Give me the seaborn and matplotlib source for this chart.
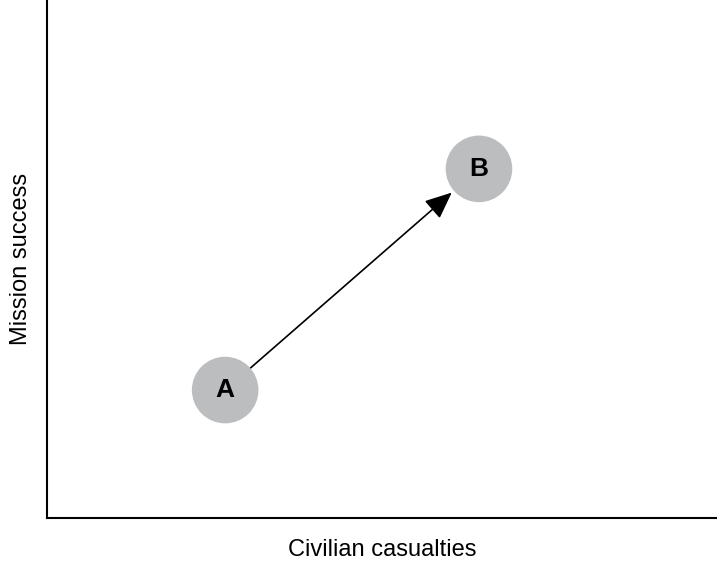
import matplotlib
matplotlib.use("Agg")
import matplotlib.pyplot as plt
import seaborn as sns
import pandas as pd

# -------------------------------
# Data
# -------------------------------
labels = ["A", "B"]
casualties = [2.66, 6.45]
success = [2.47, 6.74]

df = pd.DataFrame({"label": labels, "casualties": casualties, "success": success})

# -------------------------------
# Style
# -------------------------------
sns.set_theme(style="white")
plt.rcParams["font.family"] = ["Liberation Sans", "DejaVu Sans"]
plt.rcParams["text.color"] = "black"
plt.rcParams["axes.labelcolor"] = "black"

fig = plt.figure(figsize=(7.17, 5.62), dpi=100)
ax = fig.add_axes([0.0656, 0.0783, 0.934, 0.9217])

# circles
sns.scatterplot(x="casualties", y="success", data=df, ax=ax, s=2300,
                color="#bcbdbf", edgecolor="none", legend=False, zorder=2)

for _, row in df.iterrows():
    ax.text(row["casualties"], row["success"], row["label"], ha="center", va="center",
            fontsize=19, fontweight="bold", color="black", zorder=3)

# arrow A -> B
ax.annotate("", xy=(casualties[1], success[1]), xytext=(casualties[0], success[0]),
            arrowprops=dict(arrowstyle="-|>,head_length=0.55,head_width=0.24",
                            color="black", lw=1.2,
                            mutation_scale=30, shrinkA=24, shrinkB=26),
            zorder=1)

ax.set_xlim(0, 10)
ax.set_ylim(0, 10)
ax.set_xticks([])
ax.set_yticks([])
ax.set_xlabel("Civilian casualties", fontsize=17, labelpad=15)
ax.set_ylabel("Mission success", fontsize=17, labelpad=11)

sns.despine(ax=ax, top=True, right=True)
for side in ["left", "bottom"]:
    ax.spines[side].set_color("black")
    ax.spines[side].set_linewidth(1.5)

fig.savefig("out.png", dpi=100)
